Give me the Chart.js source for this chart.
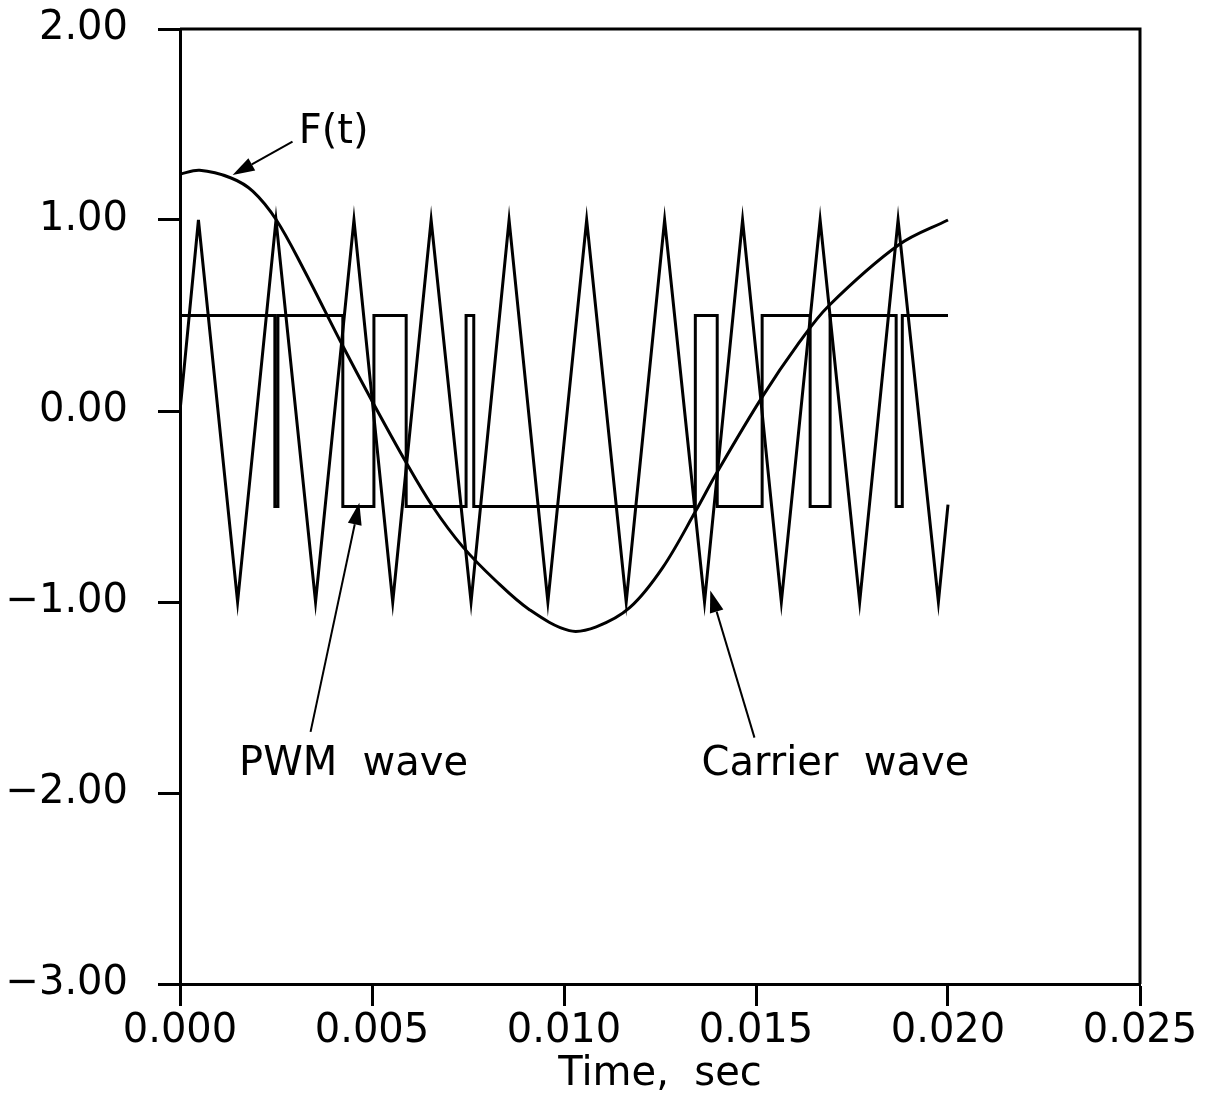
<!DOCTYPE html>
<html lang="en">
<head>
  <meta charset="UTF-8">
  <title>PWM wave</title>
  <script src="https://cdn.jsdelivr.net/npm/chart.js"></script>
  <style>
    body { margin: 0; background: #fff; }
  </style>
</head>
<body>
  <canvas id="chart" width="1211" height="1102"></canvas>

  <script>
    // axis ticks
    const xTicks = [0, 0.005, 0.010, 0.015, 0.020, 0.025];
    const yTicks = [-3, -2, -1, 0, 1, 2];

    // modulating signal F(t)
    const fT = [0, 0.00051, 0.00133, 0.00190, 0.00251, 0.00320, 0.00424, 0.00498, 0.00589, 0.00658,
                0.00736, 0.00823, 0.00910, 0.01014, 0.01084, 0.01171, 0.01257, 0.01344, 0.01396,
                0.01515, 0.01613, 0.01689, 0.01872, 0.02000];
    const fV = [1.24, 1.26, 1.22, 1.15, 1.00, 0.75, 0.34, 0.06, -0.27, -0.50,
                -0.71, -0.89, -1.04, -1.15, -1.13, -1.03, -0.82, -0.52, -0.33,
                0.07, 0.36, 0.55, 0.87, 1.00];

    // triangular carrier, vertices
    const carrierT = [0, 0.00048, 0.00150, 0.00250, 0.00353, 0.00453, 0.00554, 0.00654, 0.00758, 0.00857,
                      0.00958, 0.01059, 0.01162, 0.01262, 0.01366, 0.01465, 0.01566, 0.01667, 0.01770,
                      0.01870, 0.01975, 0.02000];
    const carrierV = [0, 1, -1, 1, -1, 1, -1, 1, -1, 1,
                      -1, 1, -1, 1, -1, 1, -1, 1, -1,
                      1, -1, -0.49];

    // PWM switching instants and the level held after each one
    const pwmT = [0, 0.00247, 0.00255, 0.00424, 0.00505, 0.00589, 0.00745, 0.00765,
                  0.01342, 0.01399, 0.01516, 0.01641, 0.01693, 0.01865, 0.01881, 0.02000];
    const pwmV = [0.5, -0.5, 0.5, -0.5, 0.5, -0.5, 0.5, -0.5,
                  0.5, -0.5, 0.5, -0.5, 0.5, -0.5, 0.5, 0.5];

    // labels with arrows: text pos, arrow tail, arrow tip (data coords)
    const notes = [
      { text: 'F(t)',          tx: 0.00400, ty: 1.46,  x0: 0.00293, y0: 1.41,  x1: 0.00137, y1: 1.235 },
      { text: 'PWM  wave',     tx: 0.00452, ty: -1.85, x0: 0.00340, y0: -1.68, x1: 0.00467, y1: -0.48 },
      { text: 'Carrier  wave', tx: 0.01707, ty: -1.85, x0: 0.01496, y0: -1.71, x1: 0.01381, y1: -0.94 }
    ];

    const FONT = 'DejaVu Sans';
    const pts = (xs, ys) => xs.map((x, i) => ({ x: x, y: ys[i] }));

    const fmtY = v => (v < 0 ? '\u2212' : '') + Math.abs(v).toFixed(2);

    const boxAndNotes = {
      id: 'boxAndNotes',
      afterDraw(chart) {
        const { ctx, chartArea: a, scales } = chart;
        const sx = scales.x, sy = scales.y;
        ctx.save();
        ctx.strokeStyle = '#000';
        ctx.lineWidth = 3;
        ctx.beginPath();
        ctx.moveTo(a.left, a.top);
        ctx.lineTo(a.right, a.top);
        ctx.lineTo(a.right, a.bottom);
        ctx.stroke();

        ctx.fillStyle = '#000';
        ctx.font = '40px "' + FONT + '"';
        ctx.textAlign = 'center';
        ctx.textBaseline = 'middle';
        notes.forEach(n => {
          ctx.fillText(n.text, sx.getPixelForValue(n.tx), sy.getPixelForValue(n.ty));
          const px0 = sx.getPixelForValue(n.x0), py0 = sy.getPixelForValue(n.y0);
          const px1 = sx.getPixelForValue(n.x1), py1 = sy.getPixelForValue(n.y1);
          const ang = Math.atan2(py1 - py0, px1 - px0);
          const hl = 22, hw = 7;
          ctx.lineWidth = 2;
          ctx.beginPath();
          ctx.moveTo(px0, py0);
          ctx.lineTo(px1 - hl * Math.cos(ang), py1 - hl * Math.sin(ang));
          ctx.stroke();
          ctx.beginPath();
          ctx.moveTo(px1, py1);
          ctx.lineTo(px1 - hl * Math.cos(ang) + hw * Math.sin(ang), py1 - hl * Math.sin(ang) - hw * Math.cos(ang));
          ctx.lineTo(px1 - hl * Math.cos(ang) - hw * Math.sin(ang), py1 - hl * Math.sin(ang) + hw * Math.cos(ang));
          ctx.closePath();
          ctx.fill();
        });
        ctx.restore();
      }
    };

    const line = { borderColor: '#000', borderWidth: 3, pointRadius: 0, fill: false };

    new Chart(document.getElementById('chart'), {
      type: 'line',
      data: {
        datasets: [
          Object.assign({ label: 'Carrier wave', data: pts(carrierT, carrierV), tension: 0 }, line),
          Object.assign({ label: 'PWM wave', data: pts(pwmT, pwmV), stepped: true }, line),
          Object.assign({ label: 'F(t)', data: pts(fT, fV), tension: 0.35 }, line)
        ]
      },
      options: {
        responsive: false,
        animation: false,
        layout: { padding: { top: 29, right: 71, left: 0, bottom: 0 } },
        plugins: { legend: { display: false }, tooltip: { enabled: false } },
        scales: {
          x: {
            type: 'linear',
            min: 0,
            max: 0.025,
            afterBuildTicks: s => { s.ticks = xTicks.map(v => ({ value: v })); },
            afterFit: s => { s.height = 118; },
            grid: { drawOnChartArea: false, drawTicks: true, tickLength: 22, tickWidth: 3, tickColor: '#000' },
            border: { display: true, color: '#000', width: 3 },
            ticks: {
              color: '#000',
              padding: 2,
              maxRotation: 0,
              font: { family: FONT, size: 40 },
              callback: v => v.toFixed(3)
            },
            title: {
              display: true,
              text: 'Time,  sec',
              color: '#000',
              font: { family: FONT, size: 40 },
              padding: { top: 0, bottom: 3 }
            }
          },
          y: {
            type: 'linear',
            min: -3,
            max: 2,
            afterBuildTicks: s => { s.ticks = yTicks.map(v => ({ value: v })); },
            afterFit: s => { s.width = 180; s.paddingTop = 0; s.paddingBottom = 0; },
            grid: { drawOnChartArea: false, drawTicks: true, tickLength: 22, tickWidth: 3, tickColor: '#000' },
            border: { display: true, color: '#000', width: 3 },
            ticks: {
              color: '#000',
              padding: 30,
              font: { family: FONT, size: 40 },
              callback: v => fmtY(v)
            }
          }
        }
      },
      plugins: [boxAndNotes]
    });
  </script>
</body>
</html>
